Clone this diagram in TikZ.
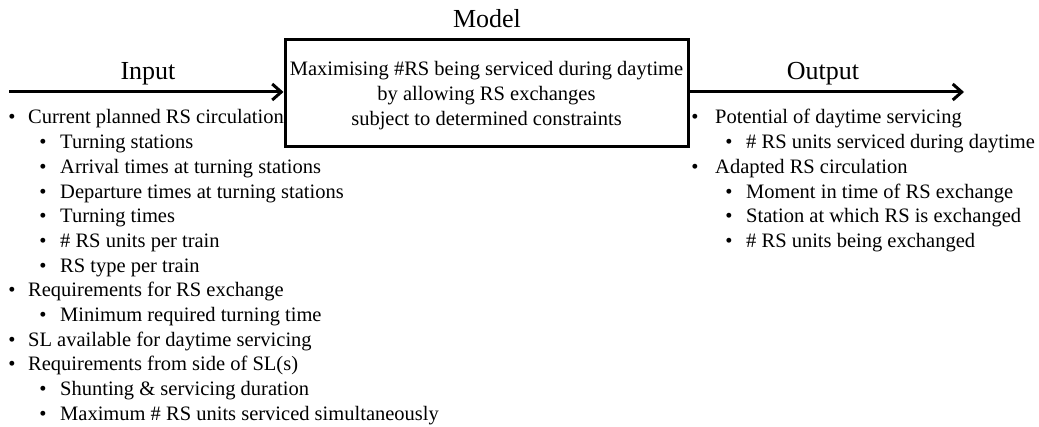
\documentclass[tikz,border=0pt]{standalone}
\usepackage{fontspec}
\setmainfont{Liberation Serif}
\usetikzlibrary{arrows.meta}
\begin{document}
\begin{tikzpicture}[x=1pt,y=-1pt,
  txt/.style={font=\fontsize{20.5}{24}\selectfont, anchor=base west, inner sep=0pt},
  bul/.style={font=\fontsize{20.5}{24}\selectfont, anchor=base, inner sep=0pt},
  head/.style={font=\fontsize{26}{30}\selectfont, anchor=base, inner sep=0pt},
  boxtxt/.style={font=\fontsize{20.5}{24}\selectfont, anchor=base, inner sep=0pt},
  flow/.style={line width=3pt, -{Straight Barb[length=9pt,width=16pt,line width=3pt]}}
]
\useasboundingbox (0,0) rectangle (1039,427);
\node[draw, line width=3pt, minimum width=403pt, minimum height=107pt, inner sep=0pt] (model) at (486.5,93.5) {};
\node[head] (modeltitle) at (487,28) {Model};
\node[head] (inputtitle) at (148,80) {Input};
\node[head] (outputtitle) at (823,80) {Output};
\node[boxtxt] (bl1) at (486.5,76) {Maximising \#RS being serviced during daytime};
\node[boxtxt] (bl2) at (486.5,101) {by allowing RS exchanges};
\node[boxtxt] (bl3) at (486.5,126) {subject to determined constraints};
\coordinate (inS) at (9,92);
\coordinate (outE) at (964,92);
\draw[flow] (inS) -- (inS -| model.west);
\draw[flow] (outE -| model.east) -- (outE);
\foreach \lv/\t [count=\i from 0] in {
  1/Current planned RS circulation,
  2/Turning stations,
  2/Arrival times at turning stations,
  2/Departure times at turning stations,
  2/Turning times,
  2/\# RS units per train,
  2/RS type per train,
  1/Requirements for RS exchange,
  2/Minimum required turning time,
  1/SL available for daytime servicing,
  1/Requirements from side of SL(s),
  2/Shunting \& servicing duration,
  2/Maximum \# RS units serviced simultaneously}{
  \pgfmathsetmacro{\yy}{124+\i*24.7}
  \ifnum\lv=1
    \node[bul] (inb\i) at (12,\yy) {\textbullet};
    \node[txt] (in\i) at (28,\yy) {\t};
  \else
    \node[bul] (inb\i) at (43,\yy) {\textbullet};
    \node[txt] (in\i) at (60,\yy) {\t};
  \fi
}
\foreach \lv/\t [count=\i from 0] in {
  1/Potential of daytime servicing,
  2/\# RS units serviced during daytime,
  1/Adapted RS circulation,
  2/Moment in time of RS exchange,
  2/Station at which RS is exchanged,
  2/\# RS units being exchanged}{
  \pgfmathsetmacro{\yy}{124+\i*24.7}
  \ifnum\lv=1
    \node[bul] (outb\i) at (695,\yy) {\textbullet};
    \node[txt] (out\i) at (715,\yy) {\t};
  \else
    \node[bul] (outb\i) at (729,\yy) {\textbullet};
    \node[txt] (out\i) at (746,\yy) {\t};
  \fi
}
\end{tikzpicture}
\end{document}
